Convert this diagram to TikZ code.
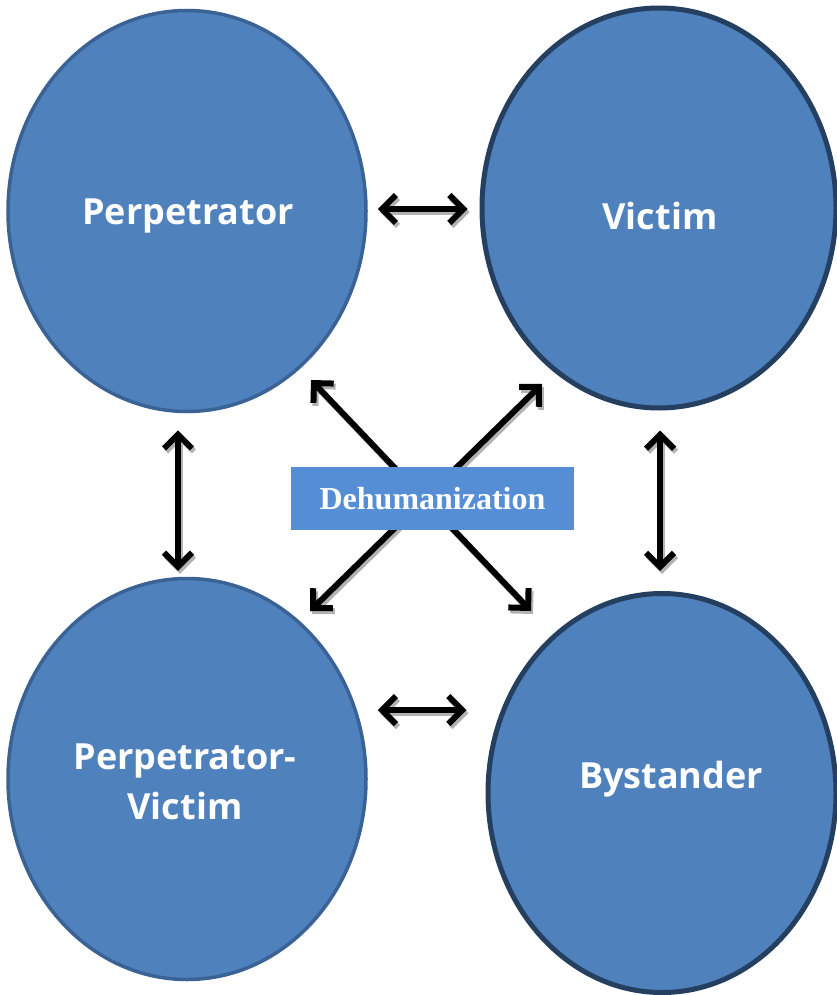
\documentclass[tikz,border=0pt]{standalone}
\usepackage{fontspec}
\setmainfont{Open Sans}
\newfontfamily\serifbold{Liberation Serif}
\usetikzlibrary{shapes.geometric,arrows.meta}
\definecolor{fillblue}{HTML}{4F81BD}
\definecolor{edgeA}{HTML}{3A6294}
\definecolor{edgeB}{HTML}{243F60}
\definecolor{boxblue}{HTML}{558ED5}
\begin{document}
\begin{tikzpicture}[x=1pt,y=-1pt,
  blob/.style={ellipse, fill=fillblue, inner sep=0pt, minimum width=358pt, minimum height=401pt},
  blobA/.style={blob, draw=edgeA, line width=3.5pt},
  blobB/.style={blob, draw=edgeB, line width=5pt},
  lbl/.style={text=white, font=\fontsize{36}{50}\selectfont\bfseries, align=center, inner sep=0pt},
  dbox/.style={fill=boxblue, minimum width=283pt, minimum height=63pt, inner sep=0pt, text=white, font=\serifbold\fontsize{32}{36}\selectfont\bfseries},
  arrbase/.style={line width=6pt, {Straight Barb[length=14pt,width=28pt]}-{Straight Barb[length=14pt,width=28pt]}},
  arrshadow/.style={arrbase, draw=black!30, transform canvas={shift={(2pt,-3pt)}}},
  arr/.style={arrbase, draw=black}
]
\useasboundingbox (0,0) rectangle (836,995);
% ellipses
\node[blobA] (P) at (187,211) {};
\node[blobB, minimum width=354pt, minimum height=400pt] (V) at (659,208) {};
\node[blobA] (PV) at (187,779) {};
\node[blobB, minimum width=348pt, minimum height=399pt] (B) at (662,793) {};
% labels
\node[lbl] (Pl) at (188,216) {Perpetrator};
\node[lbl] (Vl) at (660,216) {Victim};
\node[lbl] (PVl) at (185,782) {Perpetrator-\\Victim};
\node[lbl] (Bl) at (671,779) {Bystander};
% arrow end coordinates
\coordinate (h1a) at ([xshift=10pt]P.east |- 0,209);
\coordinate (h1b) at ([xshift=-12pt]V.west |- 0,209);
\coordinate (h2a) at ([xshift=10pt]PV.east |- 0,710);
\coordinate (h2b) at ([xshift=-19pt]B.west |- 0,710);
\coordinate (v1a) at ([yshift=-17pt]P.south -| 178,0);
\coordinate (v1b) at ([yshift=6pt]PV.north -| 178,0);
\coordinate (v2a) at ([yshift=-20pt]V.south -| 660,0);
\coordinate (v2b) at ([yshift=20pt]B.north -| 660,0);
\coordinate (d1a) at (311,380);
\coordinate (d1b) at (531,611);
\coordinate (d2a) at (542,384);
\coordinate (d2b) at (310,611);
% arrow shadows
\foreach \a/\b in {h1a/h1b,h2a/h2b,v1a/v1b,v2a/v2b,d1a/d1b,d2a/d2b}
  \draw[arrshadow] (\a) -- (\b);
% arrows
\foreach \a/\b in {h1a/h1b,h2a/h2b,v1a/v1b,v2a/v2b,d1a/d1b,d2a/d2b}
  \draw[arr] (\a) -- (\b);
% center box
\node[dbox] (D) at (432.5,498.5) {Dehumanization};
\end{tikzpicture}
\end{document}
